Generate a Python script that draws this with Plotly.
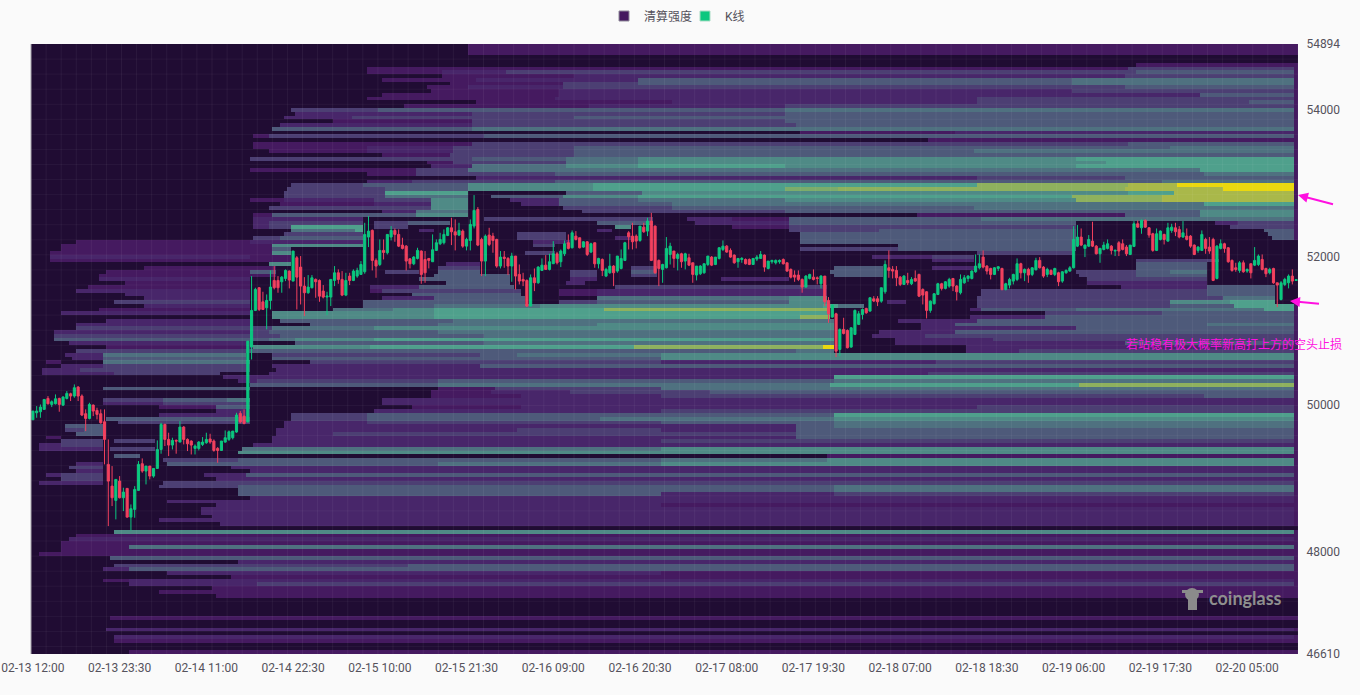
import plotly.graph_objects as go

TIME_LABELS = ["02-13 12:00","02-13 23:30","02-14 11:00","02-14 22:30","02-15 10:00","02-15 21:30","02-16 09:00",
               "02-16 20:30","02-17 08:00","02-17 19:30","02-18 07:00","02-18 18:30","02-19 06:00","02-19 17:30","02-20 05:00"]
PRICE_TICKS = [46610, 48000, 50000, 52000, 54000, 54894]
N_CANDLES = 336
N_ROWS = 162

OPENS = [
49791,49886,49900,49932,50081,49999,50008,50081,49990,50081,
50144,50113,50235,50113,49873,49809,49990,49918,49873,49764,
49185,48890,48696,48958,48732,48859,48469,48574,48832,49194,
49094,49162,49026,49130,49388,49728,49524,49447,49511,49488,
49692,49524,49502,49402,49402,49456,49479,49530,49502,49402,
49375,49488,49524,49547,49624,49877,49841,49760,50778,51276,
51584,51393,51312,51411,51683,51683,51665,51710,51810,51674,
51991,51864,51606,51516,51584,51697,51683,51538,51457,51457,
51683,51787,51697,51484,51742,51683,51742,51765,51801,52272,
52362,51955,51900,52091,52059,52272,52362,52308,52163,52149,
51977,51909,51982,52082,51968,51982,51937,52091,52181,52195,
52294,52398,52344,52299,52353,52149,52226,52421,52647,52240,
51946,52299,52285,52240,51878,52000,51982,51878,52014,51765,
51697,51683,51335,51719,51651,51819,51891,51833,51910,52045,
51937,52045,52195,52127,52285,52263,52136,52208,52068,52195,
51909,51968,51742,51787,51878,51810,51846,51955,52330,52285,
52285,52226,52407,52353,52489,52421,51955,51833,51855,52036,
52082,51982,52045,51946,51991,51923,51756,51774,51787,51900,
52000,51900,51982,52104,52149,52091,52027,51937,51968,51968,
51968,51900,51973,51982,52027,51846,51937,51923,51937,51968,
51923,51833,51756,51756,51697,51593,51710,51728,51719,51638,
51742,51411,51185,51230,50746,51018,51004,50778,50950,51086,
51221,51303,51267,51434,51434,51402,51529,51855,51833,51819,
51728,51629,51683,51638,51710,51765,51561,51529,51276,51366,
51493,51638,51575,51606,51710,51606,51516,51651,51710,51710,
51801,51855,52000,51878,51846,51765,51846,51846,51561,51620,
51674,51697,51910,51787,51833,51765,51828,51955,51864,51765,
51819,51765,51787,51674,51787,51810,51855,52149,52272,52118,
52149,52217,52149,52045,52104,52118,52149,52082,52195,52181,
52136,52036,52145,52453,52398,52498,52398,52317,52091,52240,
52308,52217,52362,52398,52376,52272,52285,52285,52163,52091,
52091,52240,52136,52240,51710,52118,52181,52127,51955,51855,
51819,51923,51810,51910,51891,51900,51968,51846,51787,51846,
51651,51425,51629,51651,51742,51683]

CLOSES = [
49909,49909,49963,50067,50008,50036,50076,49999,50099,50149,
50113,50226,50113,49855,49809,49999,49909,49864,49750,49524,
48958,48732,48981,48732,48809,48469,48583,48845,49185,49094,
49162,49026,49130,49388,49728,49524,49447,49511,49502,49692,
49524,49465,49447,49434,49488,49488,49524,49488,49375,49375,
49502,49547,49628,49637,49855,49760,49741,50859,51276,51561,
51289,51289,51411,51593,51584,51584,51728,51819,51688,52082,
51728,51606,51516,51593,51719,51665,51470,51457,51470,51697,
51787,51697,51484,51683,51683,51810,51819,51900,52308,52353,
51955,51878,52091,52063,52308,52362,52308,52149,52118,51946,
51909,52000,52091,51765,51787,51955,52100,52195,52240,52308,
52398,52344,52299,52362,52149,52240,52444,52634,52163,51946,
52285,52172,52226,51878,52000,51982,51878,52014,51742,51674,
51674,51335,51719,51651,51864,51891,51833,51937,52045,51923,
52082,52181,52118,52330,52240,52127,52208,52036,52181,51909,
51982,51819,51833,51878,51787,52014,51982,52195,52276,52208,
52217,52421,52344,52489,51955,51787,51846,51900,52118,52149,
51982,52036,51937,52045,51891,51765,51878,51878,51910,52014,
51891,52000,52127,52149,52068,52000,51923,51982,51982,51909,
51900,51982,52000,52036,51864,51946,51955,51955,51955,51909,
51810,51728,51728,51697,51593,51742,51765,51697,51710,51742,
51393,51230,51348,50723,51018,50963,50769,51040,51276,51230,
51289,51244,51448,51403,51393,51584,51900,51819,51810,51719,
51629,51742,51651,51697,51674,51470,51484,51276,51402,51502,
51638,51575,51665,51697,51606,51529,51697,51719,51742,51810,
51878,51910,51864,51810,51765,51855,51869,51561,51638,51697,
51765,51910,51787,51833,51756,51855,51955,51855,51742,51833,
51765,51846,51665,51801,51819,51855,52240,52272,52163,52163,
52240,52149,52045,52118,52163,52181,52091,52091,52082,52104,
52045,52163,52453,52407,52498,52407,52299,52091,52317,52353,
52240,52398,52407,52344,52272,52330,52240,52149,52036,52136,
52308,52118,52082,51683,52149,52181,52118,51937,51819,51833,
51923,51801,51833,51787,51955,52014,51833,51774,51833,51651,
51620,51651,51697,51742,51674,51692]

HIGHS = [
49909,49977,49999,50067,50113,50054,50135,50090,50113,50181,
50158,50271,50248,50135,49932,50022,49999,49954,49932,49932,
49524,49162,48981,49026,48868,48859,48641,48890,49230,49266,
49162,49162,49130,49511,49750,49737,49615,49547,49524,49773,
49705,49538,49511,49456,49502,49556,49615,49601,49524,49420,
49502,49646,49646,49637,49886,49909,49932,50859,51742,51584,
51593,51529,51493,51819,51878,51742,51742,51833,51819,52082,
52014,52014,51728,51756,51756,51710,51697,51620,51529,51697,
51878,51833,51810,51787,51787,51833,51855,51946,52466,52557,
52376,51982,52240,52240,52308,52421,52389,52376,52263,52163,
51982,52014,52127,52091,52082,51982,52308,52240,52330,52376,
52407,52534,52512,52466,52376,52263,52512,52842,52679,52263,
52308,52398,52330,52249,52082,52082,52000,52059,52014,51900,
51787,51697,51765,51846,51878,51982,52027,52045,52217,52072,
52104,52226,52308,52362,52353,52263,52217,52217,52195,52195,
51991,51982,51855,52045,51891,52014,52104,52208,52353,52466,
52308,52421,52466,52534,52602,52430,51968,51910,52272,52195,
52082,52059,52059,52059,52045,51923,51878,51891,51910,52014,
52014,52000,52136,52226,52163,52118,52036,51982,52000,51982,
51982,51982,52027,52082,52036,51946,51964,51968,51968,51982,
51923,51846,51819,51819,51710,51756,51774,51833,51737,51756,
51742,51457,51357,51244,51031,51176,51018,51049,51289,51267,
51303,51312,51457,51470,51470,51584,51955,52091,51878,51878,
51742,51756,51787,51728,51819,51774,51575,51538,51411,51511,
51651,51651,51674,51719,51710,51620,51765,51756,51756,51819,
52036,52036,52091,51891,51855,51864,51878,51855,51651,51719,
51774,51982,51923,51846,51855,51864,51991,52000,51878,51855,
51833,51855,51801,51810,51833,51878,52421,52435,52389,52172,
52299,52480,52163,52127,52208,52240,52163,52104,52217,52240,
52163,52163,52489,52498,52512,52512,52407,52330,52389,52362,
52317,52466,52453,52466,52421,52489,52389,52299,52172,52149,
52362,52263,52272,52263,52163,52240,52195,52136,51968,51923,
51946,51955,51846,51910,52136,52036,52036,51855,51855,51855,
51651,51674,51719,51765,51833,51692]

LOWS = [
49791,49818,49818,49932,49999,49963,49999,49900,49977,50067,
50045,50090,50045,49841,49637,49796,49841,49796,49737,49185,
48347,48619,48438,48723,48551,48460,48288,48460,48823,49071,
48913,48981,49004,49130,49330,49434,49298,49388,49330,49488,
49456,49366,49320,49320,49375,49434,49465,49465,49357,49207,
49375,49479,49502,49524,49615,49741,49728,49760,50610,51267,
51267,51289,51018,51289,51561,51516,51516,51674,51575,51674,
51289,51357,51199,51502,51575,51448,51393,51439,51212,51335,
51606,51638,51470,51470,51620,51674,51719,51765,51774,52136,
51819,51719,51878,51968,52036,52226,52208,52136,52104,51819,
51846,51891,51968,51638,51651,51846,51937,52082,52163,52172,
52285,52163,52091,52285,52127,52091,52091,52389,52149,51742,
51742,52149,52059,51855,51846,51855,51756,51665,51561,51629,
51606,51321,51335,51538,51638,51810,51833,51819,51910,51900,
51864,52014,52104,52118,52226,52118,52127,52014,52054,51855,
51846,51742,51728,51774,51606,51787,51833,51946,52104,52104,
52118,52208,52330,52285,51946,51774,51606,51651,51846,51900,
51855,51819,51855,51833,51878,51651,51683,51756,51774,51878,
51878,51891,51968,52082,52059,51991,51910,51855,51923,51900,
51891,51900,51946,51982,51801,51833,51910,51900,51910,51900,
51801,51710,51665,51674,51516,51584,51697,51683,51629,51575,
51335,51108,51176,50642,50655,50950,50760,50769,50941,51077,
51153,51230,51258,51389,51335,51380,51502,51719,51710,51606,
51606,51629,51620,51620,51665,51457,51357,51167,51244,51357,
51484,51547,51561,51584,51538,51411,51493,51638,51665,51697,
51787,51833,51846,51765,51697,51756,51810,51547,51547,51575,
51629,51674,51710,51674,51651,51742,51819,51846,51719,51728,
51756,51742,51606,51651,51774,51801,51846,52136,52149,52000,
52136,52136,52036,51923,52091,52104,52036,52014,52014,52091,
52014,52027,52136,52398,52317,52398,52263,52072,52082,52226,
52172,52208,52330,52285,52254,52263,52226,52127,52027,52059,
52082,52045,52045,51674,51697,52104,52059,51923,51801,51801,
51787,51787,51787,51710,51878,51878,51819,51728,51765,51638,
51321,51411,51606,51575,51629,51683]

# Liquidation intensity per price row (top to bottom): alternating
# [first time column, level, first time column, level, ...]; level 0 before the first column.
HEAT_TOP = [
[116,2],[116,2],[116,2],[],[],[293,2],
[89,2,291,4],[89,2,109,3,126,4,293,5],[109,2,144,3,290,4],[93,2,118,3,161,5,276,6],
[111,2,141,4,161,5,276,6],[105,2,116,3,141,4,290,5],[106,2,140,3,276,4],[93,2,140,3,310,5],
[89,2,139,3,251,4],[118,2,170,3,251,4,323,5],[99,2,148,3,200,4],[69,4,92,5,200,6],
[70,3,117,4,200,5],[67,3,85,4,144,5],[80,2,117,4,200,5],[66,3,117,4,203,5],
[64,5,117,6],[204,2,245,3],[59,2,63,4,120,5],[238,2],
[59,2,117,4,291,5],[59,2,89,3,112,4,144,5,302,6],[63,2,89,3,112,4,144,5,250,6],[93,2,111,4,144,5],
[58,4,117,5,142,6,161,7,277,8],[105,2,112,4,142,6,161,7,285,8],[106,3,117,6,142,7,161,8,200,7,277,8],
[58,2,102,4,116,6,310,8],[89,2,102,4,139,5,311,6],[118,3,251,4,290,5],[89,3,101,4,139,5,300,6],
[69,4,88,5,116,7,149,8,251,8.7,291,9,304,10],[68,4,94,5,116,7,149,8,200,8.5,214,8.7,290,9,316,10],
[67,4,94,8,116,0,142,5,162,7,291,8,303,9],[67,4,94,6,116,0,122,5,141,7,161,8,276,8.7,300,9],
[58,2,67,3,91,4,106,7,116,0,127,3,140,5,161,6,200,7,277,8.7,300,9],[66,2,91,3,106,7,116,0,130,3,140,5,170,6,311,8],
[63,4,106,7,116,0,141,4,170,5,250,6],[93,3,102,6,116,0,146,4,200,5,310,7],
[59,2,64,5,102,7,116,0,235,2,290,5,310,7],
]
HEAT_MID = [
[59,3,88,0,120,4,165,0,174,3,186,2,201,5,252,6],
[59,3,63,4,88,0,91,4,100,5,111,0,150,5,165,0,176,3,201,5,277,0,314,3,320,4],
[59,3,63,4,69,8,88,0,91,4,100,0,155,7,159,0,186,2,201,4,277,0,318,4],
[69,6,86,8,88,0,103,3,107,0,150,3,154,0,201,4,225,5,277,0,327,5],
[67,4,88,0,129,4,142,0,204,5,277,0,328,5],
[59,4,66,5,88,0,129,4,142,0,155,3,159,0,204,5,277,0,329,5],
[12,2,58,3,88,0,133,3,143,0,204,5,277,0],
[8,2,64,7,88,0,133,4,139,0,230,5,277,0],
[8,2,64,5,69,0,204,4,230,5,277,0],
[5,2,64,7,69,0,131,4,139,0,251,4,276,0],
[5,3,58,2,69,0,223,3,239,4,250,0],
[5,2,69,0,239,3,250,0,293,4,315,0],
[63,7,69,0,110,3,119,0,293,5,312,0],
[30,2,65,0,108,4,119,0,159,4,166,0,213,5,226,0,239,3,250,0,293,5,312,0],
[20,2,58,5,65,0,94,4,103,0,108,5,119,0,143,4,150,0,159,5,166,0,212,5,226,0,277,4,293,5,302,6,312,0],
[18,2,65,0,107,5,127,0,143,4,150,0,159,4,166,0,213,5,226,0,278,4,293,5,312,0],
[18,3,58,0,103,5,127,0,143,3,150,0,183,3,201,0,280,4,312,0],
[25,2,58,0,110,5,127,0,142,3,147,0,280,3,312,0],
[15,2,58,0,90,3,103,5,128,0,155,4,211,0,289,3,312,5,330,0],
[12,3,58,0,90,2,93,4,130,0,140,2,150,3,211,0,252,4,312,5,330,0],
[25,3,58,0,101,5,130,0,140,2,150,3,211,0,252,4,312,5,330,0],
[30,3,58,0,93,3,107,5,131,0,150,6,201,7,211,0,251,4,316,6,330,0],
[22,4,58,0,88,5,131,0,140,4,150,5,201,7,211,0,227,3,232,0,251,4,302,7,318,8,330,0],
[30,3,58,0,88,5,107,6,135,7,210,8,214,6,221,0,251,4,302,5,319,8],
[18,2,58,0,80,6,96,7,107,8,152,8.7,212,0,249,3,252,5,277,6,327,8],
[8,3,58,0,64,7,107,8,212,0,269,4,300,5],
[64,7,107,8,204,8.7,212,0,249,3,269,5],
[20,3,58,0,66,5,112,6,213,0,230,3,251,5],
[12,3,58,0,74,5,108,6,150,7,213,0,236,3,245,5,312,6],
[12,4,64,6,91,7,213,0,236,3,277,5],
[6,3,59,4,63,5,108,6,213,0,225,3,245,5],
[6,4,66,5,120,6,213,0,223,3,237,4],
[6,5,63,6,70,7,91,8,213,0,229,3,255,4],
[10,3,58,0,70,5,120,6,213,0,229,3,290,5],
[20,2,59,7,90,8,160,8.7,210,10,213,0,248,3],
[12,4,58,5,203,6,213,0,248,3,262,4],
]
HEAT_LOW = [
[9,3,19,6,57,0,64,4,119,5,129,6,167,7],[11,3,19,5,57,0,64,5,167,7],[4,2,8,0,19,6,58,0,74,4,167,3,240,4],
[8,3,19,4,58,0,64,3,119,5],[3,3,13,4,58,0,65,3],[3,3,22,4,50,0,63,3,238,4],
[51,3,213,8],[55,3,60,4,108,5,213,6],[58,5,108,6,212,8,278,8.7],[19,5,58,0,108,2,123,4,167,6],
[106,2,122,3,143,4,180,5],[106,2,130,3,167,4,311,5],[19,4,35,5,52,6,58,0,93,3],[19,3,35,4,58,0,93,3],
[34,2,49,5,58,0,101,2,130,3,251,4],[49,3,58,0,91,3,167,4],[34,3,58,0,69,4,89,5,213,8],
[20,5,58,0,69,4,89,5,151,6,213,7],[23,4,58,0,67,3,89,4,167,5,213,6],[9,5,19,0,67,3,203,5,213,6],
[9,4,14,5,19,0,65,3,129,4,167,3,203,5],[12,5,19,0,65,3,80,4,203,5],[4,2,8,0,64,3,203,5],
[8,4,19,0,22,4,33,0,64,3,167,4],[2,3,8,4,19,0,59,3],[2,3,19,0,21,4,33,0,56,6,167,7],[55,7],
[22,5,29,0,211,2],[35,4,55,5,167,6,211,7],[12,3,19,0,36,5,108,6,167,7],[10,4,19,0,53,3],[12,3,19,0,58,3],
[4,3,8,4,19,0,46,3,57,5],[8,4,19,0,49,3],[2,3,19,0,35,4],[34,4,55,5,213,6],[55,5,213,6],[55,5,167,3,213,4],
[58,3],[36,3],[49,3,167,2],[45,3],[45,3],[48,3],[34,3],[50,3],[],[22,7],[12,2],[10,3],[8,2],[8,2,26,6],[8,2],[2,2],
[21,5],[55,3],[22,4,100,5],[19,3,26,5],[36,3,167,2],[53,2],[19,2,26,3],[26,3,60,4],[48,2],[34,2],[49,2],
[],[],[],[],[],[21,2],[],[],[20,3],[],[22,3],[22,2],[],[],[26,2],
]

LEVEL_COLORS = ["#200c33","#2e1044","#451a60","#48266a","#4c3f73","#4e5a7a","#4f7180","#4f8a86","#4fa08c","#a9b84a","#ead80f"]
ANNOTATION = "若站稳有极大概率新高打上方的空头止损"

rows = HEAT_TOP + HEAT_MID + HEAT_LOW
assert len(rows) == N_ROWS, len(rows)
for name, a in (("o", OPENS), ("h", HIGHS), ("l", LOWS), ("c", CLOSES)):
    assert len(a) == N_CANDLES, (name, len(a))

z = []
for row in rows:
    line = [0] * N_CANDLES
    for k in range(0, len(row), 2):
        for c in range(row[k], N_CANDLES):
            line[c] = row[k + 1]
    if line[-1] > 0:
        line[-1] = 2
    z.append(line)

colorscale = [[i / 10, col] for i, col in enumerate(LEVEL_COLORS)]
xs = list(range(N_CANDLES))
step = (max(PRICE_TICKS) - min(PRICE_TICKS)) / N_ROWS

PL, PR, PT, PB = 31, 1298, 44, 654
def px(x): return (x - PL) / (PR - PL)
def py(y): return (PB - y) / (PB - PT)

fig = go.Figure()
fig.add_trace(go.Heatmap(z=z, x=xs, y0=max(PRICE_TICKS) - step / 2, dy=-step, zmin=0, zmax=10,
                         colorscale=colorscale, showscale=False, hoverinfo="skip"))
GREEN, RED = "#0bc77f", "#f2405e"
fig.add_trace(go.Candlestick(x=xs, open=OPENS, high=HIGHS, low=LOWS, close=CLOSES, whiskerwidth=0,
                             increasing=dict(line=dict(color=GREEN, width=1), fillcolor=GREEN),
                             decreasing=dict(line=dict(color=RED, width=1), fillcolor=RED),
                             showlegend=False))
fig.add_trace(go.Scatter(x=[None], y=[None], mode="markers", name="清算强度",
                         marker=dict(symbol="square", size=10, color="#45195f", line=dict(color="#8f8a99", width=1))))
fig.add_trace(go.Scatter(x=[None], y=[None], mode="markers", name="K线",
                         marker=dict(symbol="square", size=10, color=GREEN, line=dict(color="#a9dcc5", width=1))))

shapes = []
for c in range(3, N_CANDLES, 4):
    shapes.append(dict(type="line", xref="x", yref="paper", x0=c + .5, x1=c + .5, y0=0, y1=1, layer="above",
                       line=dict(color="rgba(255,255,255,0.055)", width=1)))
for r in range(3, N_ROWS, 4):
    shapes.append(dict(type="line", xref="paper", yref="paper", x0=0, x1=1, y0=1 - (r + 1) / N_ROWS, y1=1 - (r + 1) / N_ROWS,
                       layer="above", line=dict(color="rgba(255,255,255,0.045)", width=1)))
shapes.append(dict(type="line", xref="paper", yref="paper", x0=0, x1=0, y0=0, y1=1, layer="above",
                   line=dict(color="#a9a6ae", width=1)))
# coinglass mascot
LOGO = "#8b8b8b"
shapes.append(dict(type="circle", xref="paper", yref="paper", x0=px(1185), x1=px(1199), y0=py(601), y1=py(588),
                   fillcolor=LOGO, line=dict(width=0), layer="above"))
shapes.append(dict(type="rect", xref="paper", yref="paper", x0=px(1188), x1=px(1197), y0=py(610), y1=py(597),
                   fillcolor=LOGO, line=dict(width=0), layer="above"))
shapes.append(dict(type="rect", xref="paper", yref="paper", x0=px(1182), x1=px(1203), y0=py(593), y1=py(590),
                   fillcolor=LOGO, line=dict(width=0), layer="above"))

MAGENTA = "#ff10e0"
annotations = [
    dict(xref="paper", yref="paper", x=px(1234), y=py(343.5), text=ANNOTATION, showarrow=False,
         font=dict(family="Noto Sans CJK SC", size=12, color=MAGENTA), xanchor="center", yanchor="middle"),
    dict(xref="paper", yref="paper", x=px(1298), y=py(195), text=" ", showarrow=True, ax=38, ay=10,
         arrowcolor=MAGENTA, arrowwidth=2, arrowhead=2, arrowsize=1),
    dict(xref="paper", yref="paper", x=px(1290), y=py(301), text=" ", showarrow=True, ax=32, ay=3,
         arrowcolor=MAGENTA, arrowwidth=2, arrowhead=2, arrowsize=1),
    dict(xref="paper", yref="paper", x=px(1245), y=py(598), text="<b>coinglass</b>", showarrow=False,
         font=dict(family="Lato, Roboto", size=18, color="#8f8f8f"), xanchor="center", yanchor="middle"),
]

fig.update_layout(
    width=1360, height=695, margin=dict(l=PL, r=1360 - PR, t=PT, b=695 - PB),
    paper_bgcolor="#fafafa", plot_bgcolor="#200c33", boxgap=0.2,
    font=dict(family="Roboto, Noto Sans CJK SC", size=12, color="#55525c"),
    legend=dict(orientation="h", xref="container", yref="container", x=685 / 1360, xanchor="center",
                y=1 - 16 / 695, yanchor="middle", font=dict(size=12, color="#55525c"), itemwidth=30,
                entrywidth=36, bgcolor="rgba(0,0,0,0)"),
    shapes=shapes, annotations=annotations,
    xaxis=dict(range=[-0.5, N_CANDLES - 0.5], tickmode="array", tickvals=list(range(0, N_CANDLES, 23)),
               ticktext=TIME_LABELS, showgrid=False, zeroline=False, rangeslider=dict(visible=False),
               automargin=False, ticks="outside", ticklen=3, tickcolor="rgba(0,0,0,0)",
               tickfont=dict(size=12, color="#55525c")),
    yaxis=dict(range=[min(PRICE_TICKS), max(PRICE_TICKS)], side="right", tickmode="array", tickvals=PRICE_TICKS,
               ticktext=[str(t) for t in PRICE_TICKS], showgrid=False, zeroline=False, automargin=False,
               ticks="outside", ticklen=5, tickcolor="rgba(0,0,0,0)", tickfont=dict(size=12, color="#55525c")),
)
fig.write_html("out.html", config={"displayModeBar": False},
               post_script="document.body.style.margin='0';document.body.style.background='#fafafa';")
